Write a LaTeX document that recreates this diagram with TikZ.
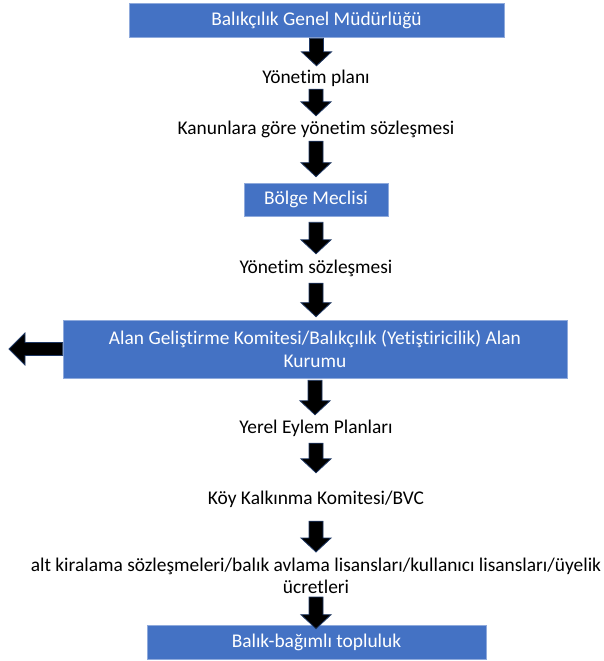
\documentclass[tikz,border=0pt]{standalone}
\usepackage{fontspec}
\setmainfont{Carlito}[Ligatures=NoCommon]
\usetikzlibrary{calc}
\definecolor{boxblue}{HTML}{4472C4}
\definecolor{boxedge}{HTML}{8FAADC}
\definecolor{arredge}{HTML}{1F3864}
\tikzset{
  bluebox/.style={fill=boxblue, draw=boxedge, line width=0.6pt, text=white,
    font=\fontsize{19.4}{23}\selectfont, inner sep=0pt, align=center},
  plain/.style={font=\fontsize{19.4}{23}\selectfont, inner sep=0pt,
    text height=13pt, text depth=4pt, anchor=base},
  barr/.style={fill=black, draw=arredge, line width=0.8pt, line join=miter}
}
\newcommand{\blockdown}[4]{%
  \draw[barr] let \p1=($(#1)+(0,#3)$), \p2=($(#2)+(0,#4)$) in
    (\x1-7pt,\y1) -- (\x1+7pt,\y1) -- (\x1+7pt,\y2+14pt) -- (\x1+15pt,\y2+14pt)
    -- (\x1,\y2) -- (\x1-15pt,\y2+14pt) -- (\x1-7pt,\y2+14pt) -- cycle;}
\begin{document}
\begin{tikzpicture}[x=1pt,y=-1pt]
\useasboundingbox (0,0) rectangle (603,661);
\node[bluebox, minimum width=375pt, minimum height=34pt] (b1) at (316.5,20) {Balıkçılık Genel Müdürlüğü};
\node[plain] (t1) at (316,84) {Yönetim planı};
\node[plain] (t2) at (316,134) {Kanunlara göre yönetim sözleşmesi};
\node[bluebox, minimum width=144pt, minimum height=33pt] (b2) at (316,199.5) {Bölge Meclisi};
\node[plain] (t3) at (316,273) {Yönetim sözleşmesi};
\node[bluebox, minimum width=504pt, minimum height=58pt] (b3) at (315,349) {Alan Geliştirme Komitesi/Balıkçılık (Yetiştiricilik) Alan\\Kurumu};
\coordinate (lefttip) at (9,349);
\node[plain] (t4) at (316,433) {Yerel Eylem Planları};
\node[plain] (t5) at (316,504) {Köy Kalkınma Komitesi/BVC};
\node[font=\fontsize{19.4}{22}\selectfont, inner sep=0pt, align=center, anchor=north] (t6) at (316,558) {alt kiralama sözleşmeleri/balık avlama lisansları/kullanıcı lisansları/üyelik\\ücretleri};
\blockdown{b1.south}{t1.north}{1}{-5}
\blockdown{t1.south}{t2.north}{1}{-5}
\blockdown{t2.south}{b2.north}{3}{-6}
\blockdown{b2.south}{t3.north}{6}{-6}
\blockdown{t3.south}{b3.north}{6}{-3}
\blockdown{b3.south}{t4.north}{2}{-5}
\blockdown{t4.south}{t5.north}{6}{-18}
\blockdown{t5.south}{t6.north}{13}{-6}
\node[bluebox, minimum width=339pt, minimum height=34pt] (b4) at (316.5,642) {Balık-bağımlı topluluk};
\blockdown{t6.south}{b4.north}{3}{4}
\draw[barr] let \p1=(b3.west), \p2=(lefttip) in
  (\x1,\y1+6.5pt) -- (\x2+16pt,\y1+6.5pt) -- (\x2+16pt,\y1+16pt) -- (\x2,\y1)
  -- (\x2+16pt,\y1-16pt) -- (\x2+16pt,\y1-6.5pt) -- (\x1,\y1-6.5pt) -- cycle;
\end{tikzpicture}
\end{document}
